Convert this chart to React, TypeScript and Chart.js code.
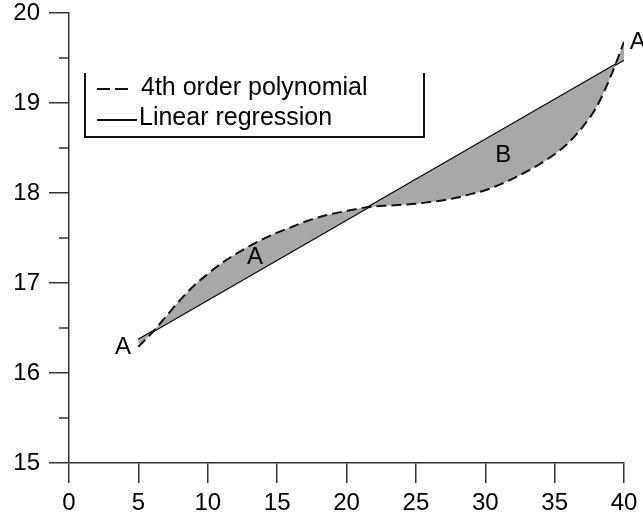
import React, { useEffect, useRef } from "react";
import { Chart, registerables } from "chart.js";

Chart.register(...registerables);

const FONT = '"Liberation Sans", Arial, Helvetica, sans-serif';

// 4th order polynomial curve
const polyX = [5, 6, 7, 8, 9, 10, 11, 12, 13, 14, 15, 16, 17, 18, 19, 20, 21, 22, 23, 24, 25, 26, 27, 28, 29, 30, 31, 32, 33, 34, 35, 36, 37, 38, 39, 40];
const polyY = [16.29, 16.45, 16.63, 16.81, 16.97, 17.1, 17.22, 17.32, 17.41, 17.49, 17.56, 17.62, 17.68, 17.73, 17.77, 17.8, 17.83, 17.85, 17.86, 17.87, 17.88, 17.9, 17.92, 17.95, 17.99, 18.03, 18.09, 18.16, 18.24, 18.33, 18.43, 18.56, 18.73, 18.95, 19.28, 19.68];

// Linear regression endpoints
const linX = [5, 40];
const linY = [16.37, 19.48];

// Region labels
const labelText = ["A", "A", "B", "A"];
const labelX = [3.9, 13.4, 31.3, 41.0];
const labelY = [16.29, 17.29, 18.42, 19.67];

// Minor y ticks
const minorY = [15.5, 16.5, 17.5, 18.5, 19.5];

const legendLabels = ["4th order polynomial", "Linear regression"];

export default function App() {
  const ref = useRef<HTMLCanvasElement>(null);
  useEffect(() => {
    if (!ref.current) return;
    const overlay = {
      id: "overlay",
      afterDraw(chart: any) {
        const ctx = chart.ctx;
        const xs = chart.scales.x;
        const ys = chart.scales.y;
        ctx.save();
        // minor ticks
        ctx.strokeStyle = "#333";
        ctx.lineWidth = 1.5;
        const left = chart.chartArea.left;
        minorY.forEach((v) => {
          const y = ys.getPixelForValue(v);
          ctx.beginPath();
          ctx.moveTo(left - 10, y);
          ctx.lineTo(left, y);
          ctx.stroke();
        });
        // labels
        ctx.fillStyle = "#000";
        ctx.font = `24px ${FONT}`;
        ctx.textAlign = "center";
        ctx.textBaseline = "middle";
        labelText.forEach((t, i) => {
          ctx.fillText(t, xs.getPixelForValue(labelX[i]), ys.getPixelForValue(labelY[i]));
        });
        // legend frame (no top)
        ctx.strokeStyle = "#111";
        ctx.lineWidth = 2;
        ctx.beginPath();
        ctx.moveTo(85, 73);
        ctx.lineTo(85, 137);
        ctx.lineTo(424, 137);
        ctx.lineTo(424, 73);
        ctx.stroke();
        // legend samples
        ctx.lineWidth = 2;
        ctx.setLineDash([13, 5]);
        ctx.beginPath();
        ctx.moveTo(97, 89);
        ctx.lineTo(131, 89);
        ctx.stroke();
        ctx.setLineDash([]);
        ctx.beginPath();
        ctx.moveTo(97, 120);
        ctx.lineTo(137, 120);
        ctx.stroke();
        ctx.textAlign = "left";
        ctx.font = `25px ${FONT}`;
        ctx.fillText(legendLabels[0], 141, 88);
        ctx.fillText(legendLabels[1], 139, 118);
        ctx.restore();
      },
    };
    const chart = new Chart(ref.current, {
      type: "line",
      data: {
        datasets: [
          {
            label: legendLabels[0],
            data: polyX.map((x, i) => ({ x, y: polyY[i] })),
            borderColor: "#111",
            borderWidth: 2,
            borderDash: [10, 5],
            pointRadius: 0,
            cubicInterpolationMode: "monotone",
            fill: { target: 1 },
            backgroundColor: "#a8a8a8",
          },
          {
            label: legendLabels[1],
            data: linX.map((x, i) => ({ x, y: linY[i] })),
            borderColor: "#000",
            borderWidth: 2.2,
            pointRadius: 0,
            fill: false,
          },
        ],
      },
      options: {
        animation: false,
        responsive: false,
        layout: { padding: { top: 13, right: 19, left: 0, bottom: 0 } },
        plugins: { legend: { display: false }, tooltip: { enabled: false } },
        scales: {
          x: {
            type: "linear",
            min: 0,
            max: 40,
            ticks: { stepSize: 5, color: "#000", font: { size: 24, family: FONT }, padding: 6, maxRotation: 0 },
            grid: { drawOnChartArea: false, drawTicks: true, tickLength: 20, color: "#333", lineWidth: 1.5 },
            border: { display: true, color: "#333", width: 1.5 },
            afterFit: (s: any) => {
              s.height = 55;
              s.paddingLeft = 0;
              s.paddingRight = 0;
            },
          },
          y: {
            type: "linear",
            min: 15,
            max: 20,
            ticks: { stepSize: 1, color: "#000", font: { size: 24, family: FONT }, padding: 9 },
            grid: { drawOnChartArea: false, drawTicks: true, tickLength: 20, color: "#333", lineWidth: 1.5 },
            border: { display: true, color: "#333", width: 1.5 },
            afterFit: (s: any) => {
              s.width = 69;
              s.paddingTop = 0;
              s.paddingBottom = 0;
            },
          },
        },
      },
      plugins: [overlay],
    } as any);
    return () => chart.destroy();
  }, []);
  return (
    <div style={{ position: "fixed", left: 0, top: 0, width: 643, height: 518, background: "#fff" }}>
      <canvas ref={ref} width={643} height={518} />
    </div>
  );
}
